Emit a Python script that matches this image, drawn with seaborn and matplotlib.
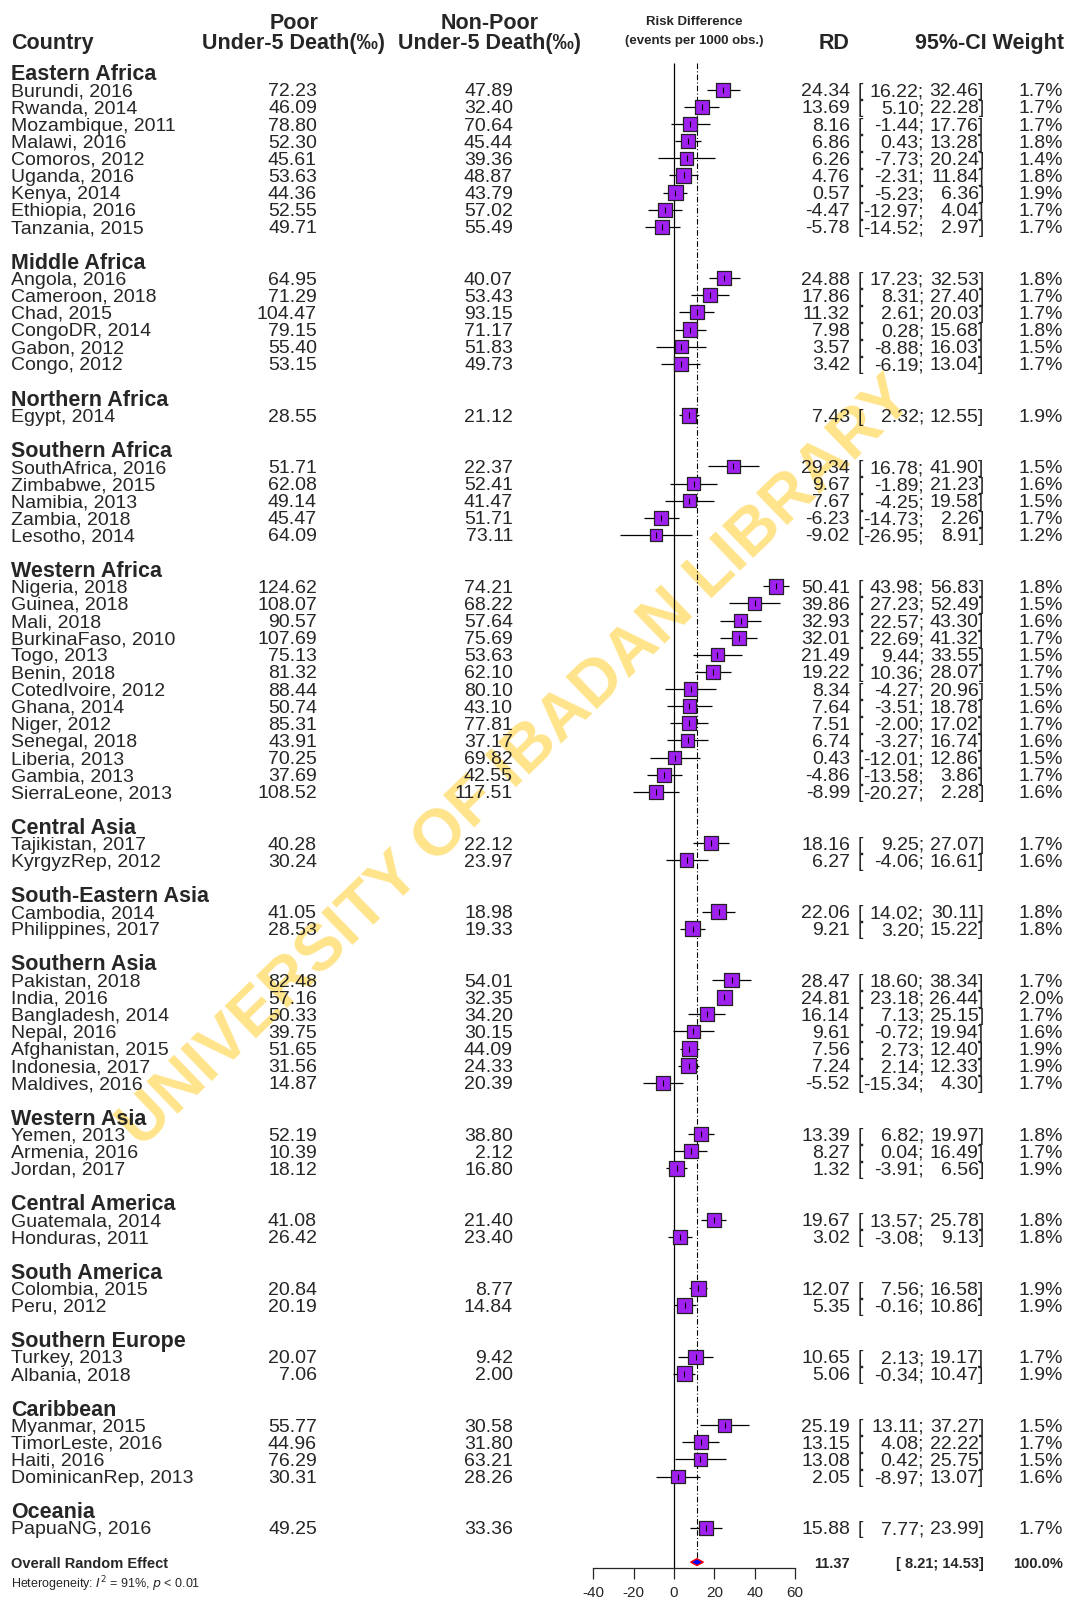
import matplotlib
matplotlib.use("Agg")
import matplotlib.pyplot as plt
import matplotlib.transforms as mtransforms
import pandas as pd
import seaborn as sns

# ---- data ----
regions = (["Eastern Africa"] * 9 + ["Middle Africa"] * 6 + ["Northern Africa"] * 1 +
           ["Southern Africa"] * 5 + ["Western Africa"] * 13 + ["Central Asia"] * 2 +
           ["South-Eastern Asia"] * 2 + ["Southern Asia"] * 7 + ["Western Asia"] * 3 +
           ["Central America"] * 2 + ["South America"] * 2 + ["Southern Europe"] * 2 +
           ["Caribbean"] * 4 + ["Oceania"] * 1)

countries = ["Burundi, 2016", "Rwanda, 2014", "Mozambique, 2011", "Malawi, 2016", "Comoros, 2012",
             "Uganda, 2016", "Kenya, 2014", "Ethiopia, 2016", "Tanzania, 2015",
             "Angola, 2016", "Cameroon, 2018", "Chad, 2015", "CongoDR, 2014", "Gabon, 2012", "Congo, 2012",
             "Egypt, 2014",
             "SouthAfrica, 2016", "Zimbabwe, 2015", "Namibia, 2013", "Zambia, 2018", "Lesotho, 2014",
             "Nigeria, 2018", "Guinea, 2018", "Mali, 2018", "BurkinaFaso, 2010", "Togo, 2013",
             "Benin, 2018", "CotedIvoire, 2012", "Ghana, 2014", "Niger, 2012", "Senegal, 2018",
             "Liberia, 2013", "Gambia, 2013", "SierraLeone, 2013",
             "Tajikistan, 2017", "KyrgyzRep, 2012",
             "Cambodia, 2014", "Philippines, 2017",
             "Pakistan, 2018", "India, 2016", "Bangladesh, 2014", "Nepal, 2016", "Afghanistan, 2015",
             "Indonesia, 2017", "Maldives, 2016",
             "Yemen, 2013", "Armenia, 2016", "Jordan, 2017",
             "Guatemala, 2014", "Honduras, 2011",
             "Colombia, 2015", "Peru, 2012",
             "Turkey, 2013", "Albania, 2018",
             "Myanmar, 2015", "TimorLeste, 2016", "Haiti, 2016", "DominicanRep, 2013",
             "PapuaNG, 2016"]

poor = [72.23, 46.09, 78.80, 52.30, 45.61, 53.63, 44.36, 52.55, 49.71,
        64.95, 71.29, 104.47, 79.15, 55.40, 53.15,
        28.55,
        51.71, 62.08, 49.14, 45.47, 64.09,
        124.62, 108.07, 90.57, 107.69, 75.13, 81.32, 88.44, 50.74, 85.31, 43.91, 70.25, 37.69, 108.52,
        40.28, 30.24,
        41.05, 28.53,
        82.48, 57.16, 50.33, 39.75, 51.65, 31.56, 14.87,
        52.19, 10.39, 18.12,
        41.08, 26.42,
        20.84, 20.19,
        20.07, 7.06,
        55.77, 44.96, 76.29, 30.31,
        49.25]

nonpoor = [47.89, 32.40, 70.64, 45.44, 39.36, 48.87, 43.79, 57.02, 55.49,
           40.07, 53.43, 93.15, 71.17, 51.83, 49.73,
           21.12,
           22.37, 52.41, 41.47, 51.71, 73.11,
           74.21, 68.22, 57.64, 75.69, 53.63, 62.10, 80.10, 43.10, 77.81, 37.17, 69.82, 42.55, 117.51,
           22.12, 23.97,
           18.98, 19.33,
           54.01, 32.35, 34.20, 30.15, 44.09, 24.33, 20.39,
           38.80, 2.12, 16.80,
           21.40, 23.40,
           8.77, 14.84,
           9.42, 2.00,
           30.58, 31.80, 63.21, 28.26,
           33.36]

rd = [24.34, 13.69, 8.16, 6.86, 6.26, 4.76, 0.57, -4.47, -5.78,
      24.88, 17.86, 11.32, 7.98, 3.57, 3.42,
      7.43,
      29.34, 9.67, 7.67, -6.23, -9.02,
      50.41, 39.86, 32.93, 32.01, 21.49, 19.22, 8.34, 7.64, 7.51, 6.74, 0.43, -4.86, -8.99,
      18.16, 6.27,
      22.06, 9.21,
      28.47, 24.81, 16.14, 9.61, 7.56, 7.24, -5.52,
      13.39, 8.27, 1.32,
      19.67, 3.02,
      12.07, 5.35,
      10.65, 5.06,
      25.19, 13.15, 13.08, 2.05,
      15.88]

ci_lo = [16.22, 5.10, -1.44, 0.43, -7.73, -2.31, -5.23, -12.97, -14.52,
         17.23, 8.31, 2.61, 0.28, -8.88, -6.19,
         2.32,
         16.78, -1.89, -4.25, -14.73, -26.95,
         43.98, 27.23, 22.57, 22.69, 9.44, 10.36, -4.27, -3.51, -2.00, -3.27, -12.01, -13.58, -20.27,
         9.25, -4.06,
         14.02, 3.20,
         18.60, 23.18, 7.13, -0.72, 2.73, 2.14, -15.34,
         6.82, 0.04, -3.91,
         13.57, -3.08,
         7.56, -0.16,
         2.13, -0.34,
         13.11, 4.08, 0.42, -8.97,
         7.77]

ci_hi = [32.46, 22.28, 17.76, 13.28, 20.24, 11.84, 6.36, 4.04, 2.97,
         32.53, 27.40, 20.03, 15.68, 16.03, 13.04,
         12.55,
         41.90, 21.23, 19.58, 2.26, 8.91,
         56.83, 52.49, 43.30, 41.32, 33.55, 28.07, 20.96, 18.78, 17.02, 16.74, 12.86, 3.86, 2.28,
         27.07, 16.61,
         30.11, 15.22,
         38.34, 26.44, 25.15, 19.94, 12.40, 12.33, 4.30,
         19.97, 16.49, 6.56,
         25.78, 9.13,
         16.58, 10.86,
         19.17, 10.47,
         37.27, 22.22, 25.75, 13.07,
         23.99]

weight = [1.7, 1.7, 1.7, 1.8, 1.4, 1.8, 1.9, 1.7, 1.7,
          1.8, 1.7, 1.7, 1.8, 1.5, 1.7,
          1.9,
          1.5, 1.6, 1.5, 1.7, 1.2,
          1.8, 1.5, 1.6, 1.7, 1.5, 1.7, 1.5, 1.6, 1.7, 1.6, 1.5, 1.7, 1.6,
          1.7, 1.6,
          1.8, 1.8,
          1.7, 2.0, 1.7, 1.6, 1.9, 1.9, 1.7,
          1.8, 1.7, 1.9,
          1.8, 1.8,
          1.9, 1.9,
          1.7, 1.9,
          1.5, 1.7, 1.5, 1.6,
          1.7]

overall_rd, overall_lo, overall_hi = 11.37, 8.21, 14.53
x_ticks = [-40, -20, 0, 20, 40, 60]

# ---- layout ----
df = pd.DataFrame({"region": regions, "country": countries, "poor": poor, "nonpoor": nonpoor,
                   "rd": rd, "lo": ci_lo, "hi": ci_hi, "weight": weight})

group_order = list(dict.fromkeys(regions))
header_rows = {}
rows = []
r = 0
for g in group_order:
    header_rows[g] = r
    r += 1
    n = (df["region"] == g).sum()
    rows.extend(range(r, r + n))
    r += n + 1
df["row"] = rows
overall_row = r

sns.set_style("white")
plt.rcParams["font.family"] = ["Liberation Sans", "DejaVu Sans"]

W, H = 1067, 1605
y0, dy = 72.7, 17.12          # pixel position of row 0 and row spacing
zero_px, ppu = 674, 2.02      # x pixel of RD=0, pixels per unit
xmin, xmax = -48, 65
txt_shift = 0.12              # nudge text down a little

fig = plt.figure(figsize=(W / 100, H / 100), dpi=100)
ax = fig.add_axes([(zero_px + xmin * ppu) / W, 0, (xmax - xmin) * ppu / W, 1])
ax.set_xlim(xmin, xmax)
ax.set_ylim((H - y0) / dy, -y0 / dy)
ax.axis("off")

tr = mtransforms.blended_transform_factory(fig.transFigure, ax.transData)


def put(xpx, row, s, **kw):
    kw.setdefault("va", "center")
    kw.setdefault("fontsize", 14)
    ax.text(xpx / W, row + txt_shift, s, transform=tr, **kw)


# watermark
fig.text(517 / W, 1 - 763 / H, "UNIVERSITY OF IBADAN LIBRARY", rotation=44,
         ha="center", va="center", fontsize=47, fontweight="bold",
         color="#FFDD6E", alpha=0.8, zorder=-1)

# reference lines
axis_row = (1568 - y0) / dy
ax.vlines(0, -0.57, axis_row, color="black", lw=0.9)
ax.vlines(overall_rd, -0.57, overall_row - 0.2, color="black", lw=0.8,
          linestyles=(0, (5, 2, 1, 2)))

# study CIs and squares
ax.hlines(df["row"], df["lo"], df["hi"], color="black", lw=0.9, zorder=2)
sns.scatterplot(data=df, x="rd", y="row", size="weight", sizes=(60 * 1.2, 60 * 2.0),
                size_norm=(1.2, 2.0), marker="s", color="#A020F0", edgecolor="#222222",
                linewidth=0.9, legend=False, ax=ax, zorder=3, clip_on=False)
sns.scatterplot(data=df, x="rd", y="row", marker="|", s=18, color="black",
                linewidth=0.8, legend=False, ax=ax, zorder=4, clip_on=False)
ax.set_xlabel("")
ax.set_ylabel("")

# overall diamond
ax.fill([overall_lo, overall_rd, overall_hi, overall_rd],
        [overall_row, overall_row - 0.2, overall_row, overall_row + 0.2],
        facecolor="#0000FF", edgecolor="red", lw=1, zorder=4)

# x axis
ax2 = fig.add_axes([(zero_px + xmin * ppu) / W, 1 - 1568 / H, (xmax - xmin) * ppu / W, 0.0001])
ax2.set_xlim(xmin, xmax)
ax2.patch.set_visible(False)
sns.despine(ax=ax2, left=True)
ax2.spines["bottom"].set_bounds(x_ticks[0], x_ticks[-1])
ax2.spines["bottom"].set_linewidth(0.9)
ax2.set_yticks([])
ax2.set_xticks(x_ticks)
ax2.set_xticklabels([str(t) for t in x_ticks])
ax2.tick_params(axis="x", direction="out", length=8, width=0.9, pad=5, labelsize=11,
                bottom=True)

# column headers
hb = dict(fontweight="bold", fontsize=15.5)
put(11, -1.85, "Country", ha="left", **hb)
put(294, -3.0, "Poor", ha="center", **hb)
put(294, -1.85, "Under-5 Death(\u2030)", ha="center", **hb)
put(490, -3.0, "Non-Poor", ha="center", **hb)
put(490, -1.85, "Under-5 Death(\u2030)", ha="center", **hb)
put(694, -3.08, "Risk Difference", ha="center", fontweight="bold", fontsize=9.5)
put(694, -1.97, "(events per 1000 obs.)", ha="center", fontweight="bold", fontsize=9.5)
put(850, -1.85, "RD", ha="right", **hb)
put(1064, -1.85, "95%-CI Weight", ha="right", **hb)

# group headers
for g, hr in header_rows.items():
    put(11, hr, g, ha="left", fontweight="bold", fontsize=15.5)

# study rows
for _, s in df.iterrows():
    put(11, s["row"], s["country"], ha="left")
    put(317, s["row"], f"{s['poor']:.2f}", ha="right")
    put(513, s["row"], f"{s['nonpoor']:.2f}", ha="right")
    put(850, s["row"], f"{s['rd']:.2f}", ha="right")
    put(858, s["row"], "[", ha="left")
    put(924, s["row"], f"{s['lo']:.2f};", ha="right")
    put(984, s["row"], f"{s['hi']:.2f}]", ha="right")
    put(1063, s["row"], f"{s['weight']:.1f}%", ha="right")

# overall
ob = dict(fontweight="bold", fontsize=10.5)
put(11, overall_row, "Overall Random Effect", ha="left", **ob)
put(850, overall_row, f"{overall_rd:.2f}", ha="right", **ob)
put(984, overall_row, f"[ {overall_lo:.2f}; {overall_hi:.2f}]", ha="right", **ob)
put(1063, overall_row, "100.0%", ha="right", **ob)
put(11, overall_row + 1.15, r"Heterogeneity: $I^2$ = 91%, $p$ < 0.01", ha="left", fontsize=9)

fig.savefig("out.png", dpi=100)
